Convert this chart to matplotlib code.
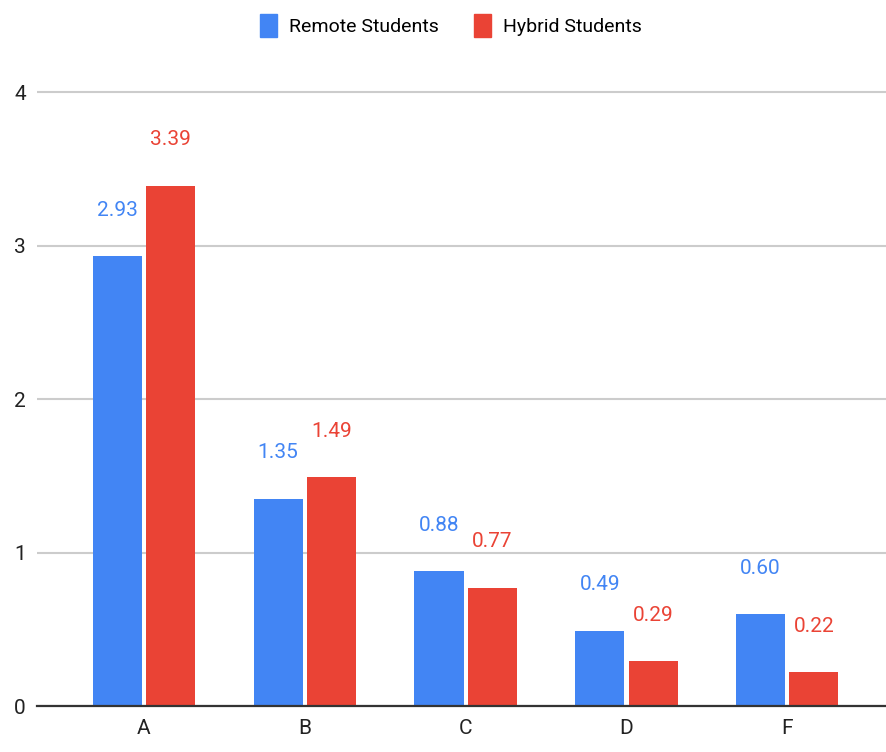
import numpy as np
import matplotlib.pyplot as plt
from matplotlib.patches import Patch

plt.rcParams['font.family'] = ['Roboto', 'DejaVu Sans']

grades = ['A', 'B', 'C', 'D', 'F']
remote = [2.93, 1.35, 0.88, 0.49, 0.60]
hybrid = [3.39, 1.49, 0.77, 0.29, 0.22]

BLUE = '#4285F4'
RED = '#EA4335'

fig = plt.figure(figsize=(8.87, 7.52), dpi=100)
ax = fig.add_axes([37 / 887, 46 / 752, 850 / 887, (706 - 46) / 752])

x = np.arange(len(grades))
w = 0.305
gap = 0.013
ax.bar(x - w / 2 - gap, remote, w, color=BLUE, zorder=3)
ax.bar(x + w / 2 + gap, hybrid, w, color=RED, zorder=3)

for i in range(len(grades)):
    ax.annotate(f"{remote[i]:.2f}", (x[i] - w / 2 - gap, remote[i]), xytext=(0, 33),
                textcoords='offset points', ha='center', va='center',
                color=BLUE, fontsize=15)
    ax.annotate(f"{hybrid[i]:.2f}", (x[i] + w / 2 + gap, hybrid[i]), xytext=(0, 33),
                textcoords='offset points', ha='center', va='center',
                color=RED, fontsize=15)

ax.set_xlim(-0.665, 4.62)
ax.set_ylim(0, 4.3)
ax.set_yticks([0, 1, 2, 3, 4])
ax.set_xticks(x)
ax.set_xticklabels(grades)
ax.tick_params(axis='both', length=0, labelsize=15, colors='#222222')
ax.tick_params(axis='y', pad=8)
ax.tick_params(axis='x', pad=9)
ax.yaxis.grid(True, color='#cccccc', linewidth=1.5, zorder=0)
for s in ['top', 'right', 'left']:
    ax.spines[s].set_visible(False)
ax.spines['bottom'].set_color('#333333')
ax.spines['bottom'].set_linewidth(1.6)
ax.spines['bottom'].set_zorder(4)

handles = [Patch(color=BLUE, label='Remote Students'),
           Patch(color=RED, label='Hybrid Students')]
fig.legend(handles=handles, loc='center', bbox_to_anchor=(0.508, 0.966), ncol=2,
           frameon=False, fontsize=14, handlelength=0.9, handleheight=1.4,
           handletextpad=0.6, columnspacing=1.8)

fig.savefig('out.png', dpi=100, facecolor='white')
